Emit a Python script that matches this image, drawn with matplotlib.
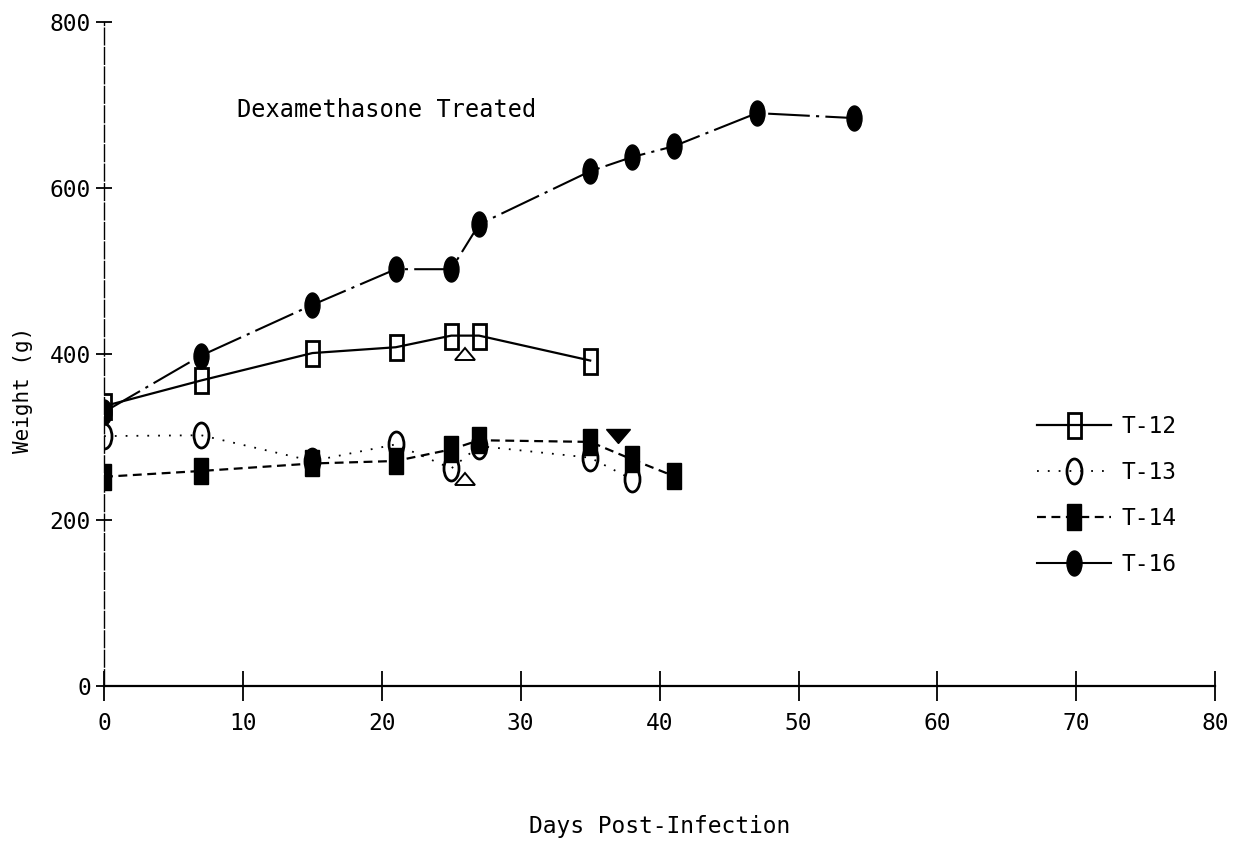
import matplotlib
matplotlib.use('Agg')
import matplotlib.pyplot as plt
from matplotlib.markers import MarkerStyle
from matplotlib.transforms import Affine2D
from matplotlib.lines import Line2D

plt.rcParams['font.family'] = ['DejaVu Sans Mono', 'DejaVu Sans']

# weights (g) by day post-infection
days_t12 = [0, 7, 15, 21, 25, 27, 35]
wt_t12 = [337, 368, 401, 408, 422, 422, 392]

days_t13 = [0, 7, 15, 21, 25, 27, 35, 38]
wt_t13 = [301, 302, 271, 291, 262, 289, 275, 249]

days_t14 = [0, 7, 15, 21, 25, 27, 35, 38, 41]
wt_t14 = [252, 259, 268, 271, 285, 296, 294, 273, 253]

days_t16 = [0, 7, 15, 21, 25, 27, 35, 38, 41, 47, 54]
wt_t16 = [330, 398, 459, 502, 502, 556, 620, 637, 650, 690, 684]

# single extra points
tri_open_days = [26, 26]
tri_open_wt = [400, 249]
tri_down_days = [37]
tri_down_wt = [301]

xticks = [0, 10, 20, 30, 40, 50, 60, 70, 80]
yticks = [0, 200, 400, 600, 800]

def tall(m, sx=0.5, sy=1.0, fill='full'):
    return MarkerStyle(m, fillstyle=fill, transform=Affine2D().scale(sx, sy))

sq_open = tall('s', 0.52, 1.0, 'none')
oval_open = tall('o', 0.6, 1.0, 'none')
sq_fill = tall('s', 0.52, 1.0)
oval_fill = tall('o', 0.6, 1.0)
dashdot = (0, (20, 3, 1.5, 3))
dotted = (0, (1, 5))
dashed = (0, (4, 2.5))

fig = plt.figure(figsize=(12.41, 8.44), dpi=100)
ax = fig.add_axes([0.0838, 0.1872, 0.8955, 0.787])

ax.plot(days_t16, wt_t16, color='black', lw=1.5, linestyle=dashdot,
        marker=oval_fill, ms=18, mfc='black', mec='black')
ax.plot(days_t12, wt_t12, color='black', lw=1.6, linestyle='-',
        marker=sq_open, ms=18, mec='black', mew=2.0)
ax.plot(days_t13, wt_t13, color='black', lw=1.3, linestyle=dotted,
        marker=oval_open, ms=18, mec='black', mew=2.0)
ax.plot(days_t14, wt_t14, color='black', lw=1.6, linestyle=dashed,
        marker=sq_fill, ms=19, mfc='black', mec='black')

ax.plot(tri_open_days, tri_open_wt, linestyle='none',
        marker=tall('^', 1.0, 0.6, 'none'), ms=15, mec='black', mew=1.4)
ax.plot(tri_down_days, tri_down_wt, linestyle='none',
        marker=tall('v', 1.0, 0.6), ms=17, mfc='black', mec='black')

ax.text(9.6, 694, 'Dexamethasone Treated', fontsize=17, va='center', ha='left')

ax.set_xlim(0, 80)
ax.set_ylim(0, 800)
ax.set_xticks(xticks)
ax.set_yticks(yticks)
ax.tick_params(axis='x', direction='inout', length=21, width=1.3, pad=8, labelsize=16.5)
ax.tick_params(axis='y', direction='inout', length=11, width=1.3, pad=4, labelsize=16.5)

for s in ['top', 'right']:
    ax.spines[s].set_visible(False)
ax.spines['bottom'].set_linewidth(1.6)
ax.spines['left'].set_linewidth(1.0)
ax.spines['left'].set_linestyle((0, (12, 2)))

ax.set_xlabel('Days Post-Infection', fontsize=16.5, labelpad=58)
ax.set_ylabel('Weight (g)', fontsize=15)
ax.yaxis.set_label_coords(-0.064, 0.446)

handles = [
    Line2D([], [], color='black', lw=1.6, marker=sq_open, ms=18, mew=2.0),
    Line2D([], [], color='black', lw=1.3, linestyle=dotted, marker=oval_open, ms=18, mew=2.0),
    Line2D([], [], color='black', lw=1.6, linestyle=dashed, marker=sq_fill, ms=19, mfc='black'),
    Line2D([], [], color='black', lw=1.5, marker=oval_fill, ms=18, mfc='black'),
]
ax.legend(handles, ['T-12', 'T-13', 'T-14', 'T-16'], frameon=False, fontsize=16.5,
          handlelength=3.2, handletextpad=0.45, labelspacing=1.0, borderpad=0,
          loc='upper left', bbox_to_anchor=(1026 / 1241, 1 - 404 / 844),
          bbox_transform=fig.transFigure)

fig.savefig('out.png', dpi=100)
